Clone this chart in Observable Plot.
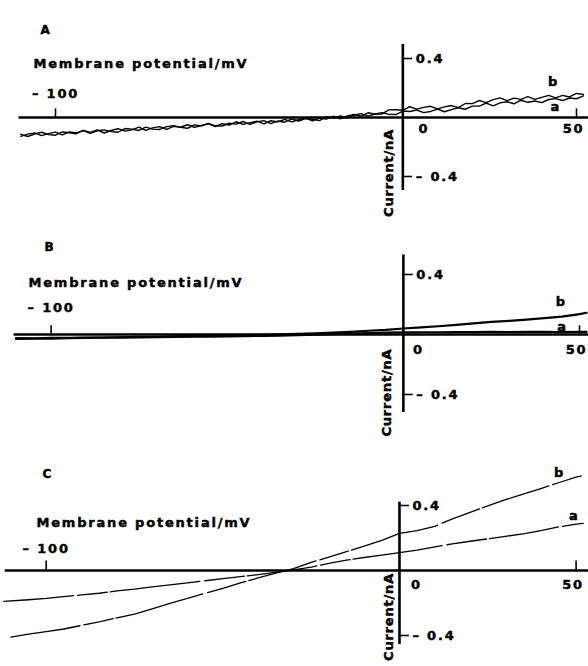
<!DOCTYPE html>
<html>
<head>
<meta charset="utf-8">
<script src="https://cdn.jsdelivr.net/npm/d3@7"></script>
<script src="https://cdn.jsdelivr.net/npm/@observablehq/plot@0.6"></script>
<style>
  html, body { margin: 0; padding: 0; background: #fff; }
  #chart { width: 588px; }
  #chart svg { display: block; }
</style>
</head>
<body>
<div id="chart"></div>
<script>
// ---------------- DATA ----------------
const panelLabels = ["A", "B", "C"];
const seriesNames = ["b", "a"];
const xAxisTitle = "Membrane potential/mV";
const yAxisTitle = "Current/nA";
const xTickValues = [-100, 0, 50];
const xTickLabels = ["\u2013 100", "0", "50"];
const yTickValues = [0.4, -0.4];
const yTickLabels = ["0.4", "\u2013 0.4"];

// Panel A (noisy traces), membrane potential in mV, current in nA
const voltsA = [-110,-108,-106,-104,-102,-100,-98,-96,-94,-92,-90,-88,-86,-84,-82,-80,-78,-76,-74,-72,-70,-68,-66,-64,-62,-60,-58,-56,-54,-52,-50,-48,-46,-44,-42,-40,-38,-36,-34,-32,-30,-28,-26,-24,-22,-20,-18,-16,-14,-12,-10,-8,-6,-4,-2,0,2,4,6,8,10,12,14,16,18,20,22,24,26,28,30,32,34,36,38,40,42,44,46,48,50,52];
const currentA_b = [-0.114,-0.129,-0.112,-0.100,-0.116,-0.120,-0.098,-0.103,-0.110,-0.087,
  -0.101,-0.084,-0.105,-0.088,-0.076,-0.092,-0.084,-0.065,-0.087,-0.070,
  -0.062,-0.081,-0.060,-0.066,-0.049,-0.067,-0.054,-0.043,-0.061,-0.042,
  -0.051,-0.029,-0.047,-0.035,-0.025,-0.043,-0.022,-0.030,-0.013,-0.030,
  -0.015,-0.004,-0.023,-0.004,-0.011,0.009,-0.009,0.011,0.020,0.009,
  0.032,0.022,0.024,0.052,0.053,0.049,0.073,0.057,0.069,0.076,
  0.058,0.072,0.081,0.067,0.095,0.094,0.115,0.101,0.121,0.133,
  0.115,0.131,0.123,0.141,0.123,0.136,0.150,0.133,0.150,0.139,
  0.163,0.157];
const currentA_a = [-0.128,-0.113,-0.104,-0.123,-0.109,-0.099,-0.118,-0.098,-0.104,-0.089,
  -0.108,-0.090,-0.084,-0.096,-0.100,-0.075,-0.079,-0.088,-0.065,-0.079,
  -0.081,-0.062,-0.055,-0.067,-0.073,-0.050,-0.057,-0.040,-0.057,-0.058,
  -0.039,-0.045,-0.027,-0.046,-0.030,-0.021,-0.041,-0.024,-0.032,-0.010,
  -0.024,-0.007,-0.012,-0.021,0.006,-0.005,0.010,-0.003,0.017,0.026,
  0.009,0.024,0.033,0.021,0.020,0.044,0.041,0.051,0.033,0.041,
  0.057,0.039,0.053,0.066,0.056,0.077,0.077,0.098,0.079,0.099,
  0.107,0.093,0.117,0.103,0.112,0.101,0.122,0.128,0.115,0.132,
  0.127,0.147];

// Panel B
const voltsB = [-110,-105,-100,-95,-90,-85,-80,-75,-70,-65,-60,-55,-50,-45,-40,-35,-30,-25,-20,-15,-10,-5,0,5,10,15,20,25,30,35,40,45,50,52];
const currentB_b = [-0.030,-0.028,-0.027,-0.024,-0.023,-0.020,-0.019,-0.016,-0.015,-0.012,-0.011,-0.008,-0.007,-0.004,-0.002,0.001,0.004,0.008,0.013,0.018,0.025,0.031,0.040,0.047,0.055,0.064,0.074,0.084,0.091,0.099,0.109,0.119,0.136,0.145];
const currentB_a = [-0.024,-0.025,-0.023,-0.023,-0.021,-0.021,-0.019,-0.019,-0.017,-0.016,-0.015,-0.014,-0.012,-0.011,-0.009,-0.007,-0.004,-0.001,0.003,0.006,0.009,0.012,0.014,0.015,0.015,0.016,0.016,0.017,0.016,0.017,0.017,0.016,0.018,0.018];

// Panel C
const voltsC_b = [-110,-105,-100,-95,-90,-85,-80,-75,-70,-65,-60,-55,-50,-45,-40,-35,-30,-25,-20,-15,-10,-5,0,5,10,15,20,25,30,35,40,45,50,52];
const currentC_b = [-0.410,-0.392,-0.376,-0.360,-0.338,-0.316,-0.291,-0.268,-0.236,-0.203,-0.172,-0.140,-0.110,-0.076,-0.046,-0.016,0.012,0.050,0.082,0.116,0.150,0.186,0.228,0.246,0.272,0.318,0.358,0.398,0.436,0.470,0.504,0.540,0.574,0.585];
const voltsC_a = [-112,-105,-100,-95,-90,-85,-80,-75,-70,-65,-60,-55,-50,-45,-40,-35,-30,-25,-20,-15,-10,-5,0,5,10,15,20,25,30,35,40,45,50,52];
const currentC_a = [-0.190,-0.180,-0.172,-0.161,-0.150,-0.140,-0.126,-0.115,-0.101,-0.088,-0.076,-0.063,-0.050,-0.038,-0.025,-0.011,0.004,0.021,0.044,0.064,0.080,0.095,0.110,0.126,0.146,0.164,0.180,0.195,0.210,0.226,0.246,0.268,0.285,0.290];

// ---------------- LAYOUT ----------------
const FONT = "DejaVu Sans";
const layouts = [
  { xRange:[55,576], yRange:[176,58], xExt:[-110.5,53.5], yExt:[-0.495,0.495],
    title:[40,25], axTitle:[33,58], dy100:-24, dy0:11, dx0:21, curY:-0.376, curDx:-14,
    lab:{b:[43.4,0.24], a:[44,0.07]}, sw:1.4, dash:null },
  { xRange:[50.6,579], yRange:[172,52], xExt:[-110.5,53], yExt:[-0.52,0.53],
    title:[44,20], axTitle:[28,55], dy100:-27, dy0:15, dx0:15, curY:-0.387, curDx:-17,
    lab:{b:[44.8,0.22], a:[45.2,0.053]}, sw:2.2, dash:null },
  { xRange:[45.7,575.6], yRange:[191,61], xExt:[-111.6,53.5], yExt:[-0.455,0.42],
    title:[42,25], axTitle:[36,73], dy100:-22, dy0:14, dx0:17, curY:-0.286, curDx:-11,
    lab:{b:[45.3,0.603], a:[49.5,0.334]}, sw:1.3, dash:"70 4 30 3 90 5 40 3" }
];

const traceSets = [
  [{name:"b", v:voltsA, c:currentA_b}, {name:"a", v:voltsA, c:currentA_a}],
  [{name:"b", v:voltsB, c:currentB_b}, {name:"a", v:voltsB, c:currentB_a}],
  [{name:"b", v:voltsC_b, c:currentC_b}, {name:"a", v:voltsC_a, c:currentC_a}]
];

const txt = {fontFamily: FONT, fontWeight: "bold", fontSize: 13, fill: "black", stroke: "black", strokeWidth: 0.45};

function makePanel(i) {
  const L = layouts[i];
  const rows = [];
  traceSets[i].forEach(t => t.v.forEach((v, k) => rows.push({series: t.name, v, c: t.c[k]})));
  const labelRows = seriesNames.map(s => ({s, x: L.lab[s][0], y: L.lab[s][1]}));
  const svg = Plot.plot({
    width: 588, height: 222,
    marginTop: 0, marginRight: 0, marginBottom: 0, marginLeft: 0,
    x: {domain: [-100, 50], range: L.xRange, axis: null},
    y: {domain: [-0.4, 0.4], range: L.yRange, axis: null},
    style: {background: "white", fontFamily: FONT, fontWeight: "bold", letterSpacing: "1.8px", overflow: "visible"},
    marks: [
      // axes
      Plot.ruleY([0], {x1: L.xExt[0], x2: L.xExt[1], stroke: "black", strokeWidth: 2.6}),
      Plot.ruleX([0], {y1: L.yExt[0], y2: L.yExt[1], stroke: "black", strokeWidth: 2.6}),
      Plot.ruleX([xTickValues[0], xTickValues[2]], {y1: 0, y2: 0.058, stroke: "black", strokeWidth: 1.6}),
      Plot.ruleY(yTickValues, {x1: 0, x2: 2.8, stroke: "black", strokeWidth: 1.6}),
      // traces
      Plot.line(rows, {x: "v", y: "c", z: "series", stroke: "black", strokeWidth: L.sw,
        strokeDasharray: L.dash, curve: "linear"}),
      // tick labels
      Plot.text([xTickValues[0]], {x: d => d, y: 0, text: () => xTickLabels[0], dy: L.dy100, ...txt}),
      Plot.text([xTickValues[1]], {x: d => d, y: 0, text: () => xTickLabels[1], dy: L.dy0, dx: L.dx0, ...txt}),
      Plot.text([xTickValues[2]], {x: d => d, y: 0, text: () => xTickLabels[2], dy: L.dy0, dx: -3, ...txt}),
      Plot.text(yTickValues, {x: 0, y: d => d, text: (d, j) => yTickLabels[j], dx: 13, textAnchor: "start", ...txt}),
      // axis titles
      Plot.text([xAxisTitle], {frameAnchor: "top-left", dx: L.axTitle[0], dy: L.axTitle[1], text: d => d, textAnchor: "start", ...txt}),
      Plot.text([yAxisTitle], {x: 0, y: L.curY, text: d => d, rotate: -90, dx: L.curDx, ...txt}),
      // panel letter
      Plot.text([panelLabels[i]], {frameAnchor: "top-left", dx: L.title[0], dy: L.title[1], text: d => d, textAnchor: "start", ...txt, fontSize: 12}),
      // series labels
      Plot.text(labelRows, {x: "x", y: "y", text: "s", ...txt, fontSize: 13})
    ]
  });
  svg.querySelectorAll("text").forEach(t => {
    if (t.textContent === yAxisTitle) t.style.letterSpacing = "0.8px";
  });
  return svg;
}

const chart = document.getElementById("chart");
for (let i = 0; i < 3; i++) chart.appendChild(makePanel(i));
</script>
</body>
</html>
